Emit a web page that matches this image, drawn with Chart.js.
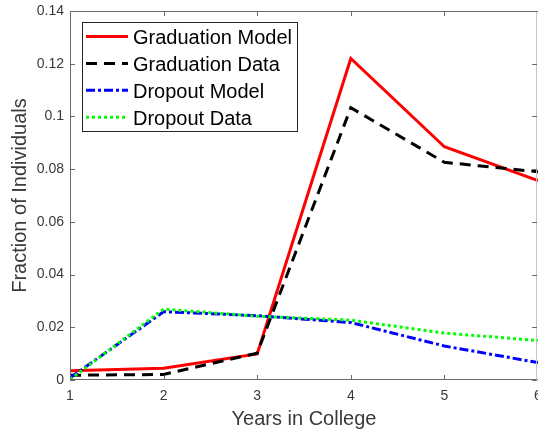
<!DOCTYPE html>
<html>
<head>
<meta charset="utf-8">
<script src="https://cdn.jsdelivr.net/npm/chart.js@4/dist/chart.umd.min.js"></script>
<style>
html,body{margin:0;padding:0;background:#fff;}
canvas{display:block;}
</style>
</head>
<body>
<canvas id="c" width="538" height="432"></canvas>
<script>
// ---- data ----
const years = [1, 2, 3, 4, 5, 6];
const graduationModel = [0.0035, 0.0045, 0.0099, 0.1220, 0.0885, 0.0757];
const graduationData  = [0.0018, 0.0021, 0.0102, 0.1033, 0.0826, 0.0790];
const dropoutModel    = [0.0008, 0.0259, 0.0244, 0.0218, 0.0129, 0.0066];
const dropoutData     = [0.0002, 0.0269, 0.0242, 0.0227, 0.0178, 0.0150];
const seriesNames = ['Graduation Model', 'Graduation Data', 'Dropout Model', 'Dropout Data'];
const yTicks = [0, 0.02, 0.04, 0.06, 0.08, 0.1, 0.12, 0.14];
const xTitle = 'Years in College';
const yTitle = 'Fraction of Individuals';

const AX = '#262626';
const TXT = '#3a3a3a';
const FRAME = '#6a6a6a';
Chart.defaults.font.family = "'Liberation Sans', Arial, Helvetica, sans-serif";

function pts(vals){ return years.map((x,i)=>({x:x, y:vals[i]})); }

const styles = [
  {color:'#ff0000', dash:[]},
  {color:'#000000', dash:[11,7]},
  {color:'#0000ff', dash:[9,3,3,3]},
  {color:'#00ff00', dash:[3,3]}
];
const allSeries = [graduationModel, graduationData, dropoutModel, dropoutData];

const datasets = allSeries.map((vals,i)=>({
  label: seriesNames[i],
  data: pts(vals),
  borderColor: styles[i].color,
  backgroundColor: styles[i].color,
  borderDash: styles[i].dash,
  borderWidth: 3,
  borderCapStyle: 'butt',
  pointRadius: 0,
  tension: 0,
  fill: false,
  order: 4 - i
}));

const framePlugin = {
  id: 'frame',
  afterDatasetsDraw(chart){
    const {ctx, chartArea:a, scales:{x, y}} = chart;
    ctx.save();
    ctx.lineWidth = 1;
    ctx.setLineDash([]);
    ctx.strokeStyle = FRAME;
    ctx.beginPath();
    ctx.moveTo(a.left + 0.5, a.top + 0.5); ctx.lineTo(a.left + 0.5, a.bottom - 0.5);
    ctx.lineTo(a.right, a.bottom - 0.5);
    ctx.moveTo(a.left + 0.5, a.top + 0.5); ctx.lineTo(a.right, a.top + 0.5);
    ctx.stroke();
    ctx.strokeStyle = '#c4c4c4';
    ctx.beginPath();
    ctx.moveTo(a.right - 1.5, a.top); ctx.lineTo(a.right - 1.5, a.bottom);
    ctx.stroke();
    ctx.strokeStyle = FRAME;
    const L = 5;
    ctx.beginPath();
    x.ticks.forEach(t=>{
      const px = Math.round(x.getPixelForValue(t.value)) + 0.5;
      ctx.moveTo(px, a.bottom); ctx.lineTo(px, a.bottom - L);
      ctx.moveTo(px, a.top); ctx.lineTo(px, a.top + L);
    });
    y.ticks.forEach(t=>{
      const py = Math.round(y.getPixelForValue(t.value)) + 0.5;
      ctx.moveTo(a.left, py); ctx.lineTo(a.left + L, py);
      ctx.moveTo(a.right - 1, py); ctx.lineTo(a.right - 1 - L, py);
    });
    ctx.stroke();
    ctx.restore();
  }
};

const legendPlugin = {
  id: 'boxLegend',
  afterDraw(chart){
    const ctx = chart.ctx;
    const bx = 82, by = 22, bw = 216, bh = 110;
    ctx.save();
    ctx.fillStyle = '#ffffff';
    ctx.fillRect(bx, by, bw, bh);
    ctx.strokeStyle = AX;
    ctx.lineWidth = 1;
    ctx.setLineDash([]);
    ctx.strokeRect(bx + 0.5, by + 0.5, bw - 1, bh - 1);
    chart.data.datasets.forEach((ds, i)=>{
      const yy = 36.5 + i * 26.9;
      ctx.beginPath();
      ctx.strokeStyle = ds.borderColor;
      ctx.lineWidth = ds.borderWidth;
      ctx.lineCap = 'butt';
      ctx.setLineDash(ds.borderDash);
      ctx.moveTo(86, yy); ctx.lineTo(128, yy);
      ctx.stroke();
      ctx.setLineDash([]);
      ctx.fillStyle = '#000000';
      ctx.font = "20px 'Liberation Sans', Arial, sans-serif";
      ctx.textBaseline = 'middle';
      ctx.textAlign = 'left';
      ctx.fillText(ds.label, 133, yy + 2);
    });
    ctx.restore();
  }
};

new Chart(document.getElementById('c'), {
  type: 'line',
  data: { datasets },
  options: {
    responsive: false,
    animation: false,
    layout: { padding: { left: 0, right: 0, top: 11, bottom: 0 } },
    plugins: { legend: { display: false }, tooltip: { enabled: false } },
    scales: {
      x: {
        type: 'linear', min: 1, max: 6,
        grid: { display: false, drawTicks: false },
        border: { display: false },
        ticks: { stepSize: 1, color: TXT, font: { size: 14 }, padding: 8, maxRotation: 0, autoSkip: false },
        title: { display: true, text: xTitle, color: TXT, font: { size: 20 }, padding: { top: 0, bottom: 1 } },
        afterFit(s){ s.height = 52; s.paddingLeft = 0; s.paddingRight = 0; }
      },
      y: {
        min: 0, max: 0.14,
        grid: { display: false, drawTicks: false },
        border: { display: false },
        afterBuildTicks(s){ s.ticks = yTicks.map(v=>({value:v})); },
        ticks: { color: TXT, font: { size: 14 }, padding: 6, callback: v => String(+v.toFixed(2)) },
        title: { display: true, text: yTitle, color: TXT, font: { size: 20 }, padding: { top: 8, bottom: 0 } },
        afterFit(s){ s.width = 70; s.paddingTop = 0; s.paddingBottom = 0; }
      }
    }
  },
  plugins: [framePlugin, legendPlugin]
});
</script>
</body>
</html>
